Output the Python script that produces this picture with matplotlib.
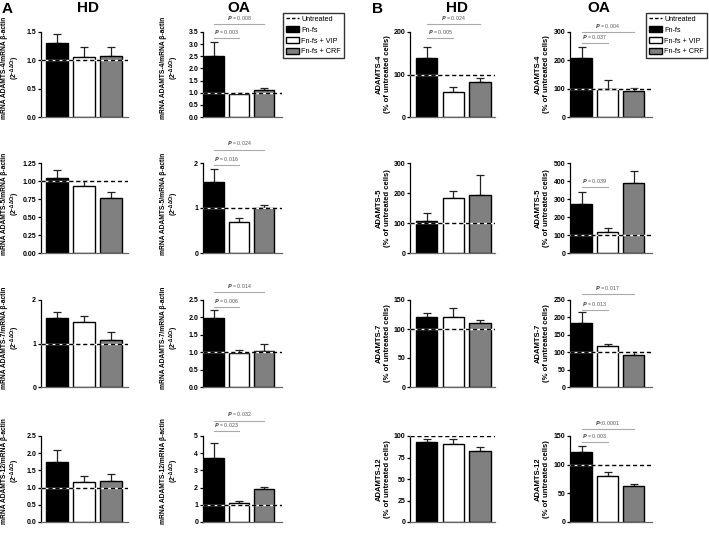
import matplotlib
matplotlib.use("Agg")
import matplotlib.pyplot as plt
from matplotlib.lines import Line2D
from matplotlib.patches import Patch

plt.rcParams['font.family'] = ['Liberation Sans', 'DejaVu Sans']
plt.rcParams['font.weight'] = 'bold'
plt.rcParams['mathtext.default'] = 'regular'

groups = ['Fn-fs', 'Fn-fs + VIP', 'Fn-fs + CRF']
genes = ['ADAMTS-4', 'ADAMTS-5', 'ADAMTS-7', 'ADAMTS-12']

# panel A: mRNA (2^-ddCt), rows = genes
a_hd_mean = [[1.31, 1.06, 1.07], [1.04, 0.93, 0.76], [1.58, 1.49, 1.08], [1.75, 1.15, 1.20]]
a_hd_err = [[0.16, 0.17, 0.16], [0.11, 0.07, 0.09], [0.15, 0.14, 0.18], [0.33, 0.18, 0.19]]
a_oa_mean = [[2.52, 0.93, 1.10], [1.57, 0.70, 0.99], [1.98, 0.99, 1.03], [3.75, 1.08, 1.90]]
a_oa_err = [[0.56, 0.07, 0.10], [0.29, 0.07, 0.07], [0.22, 0.08, 0.22], [0.87, 0.12, 0.12]]

# panel B: protein (% of untreated cells)
b_hd_mean = [[140, 59, 82], [108, 182, 195], [120, 120, 110], [93, 91, 82]]
b_hd_err = [[25, 11, 9], [25, 26, 65], [8, 16, 6], [4, 5, 5]]
b_oa_mean = [[210, 100, 92], [272, 115, 388], [185, 118, 92], [122, 80, 62]]
b_oa_err = [[36, 30, 11], [66, 25, 67], [30, 5, 10], [10, 8, 5]]

a_hd_ticks = [[0, 0.5, 1.0, 1.5], [0, 0.25, 0.5, 0.75, 1.0, 1.25], [0, 1, 2], [0, 0.5, 1.0, 1.5, 2.0, 2.5]]
a_hd_fmt = ['%.1f', '%.2f', '%d', '%.1f']
a_oa_ticks = [[0, 0.5, 1.0, 1.5, 2.0, 2.5, 3.0, 3.5], [0, 1, 2], [0, 0.5, 1.0, 1.5, 2.0, 2.5], [0, 1, 2, 3, 4, 5]]
a_oa_fmt = ['%.1f', '%d', '%.1f', '%d']
b_hd_ticks = [[0, 100, 200], [0, 100, 200, 300], [0, 50, 100, 150], [0, 25, 50, 75, 100]]
b_oa_ticks = [[0, 100, 200, 300], [0, 100, 200, 300, 400, 500], [0, 50, 100, 150, 200, 250], [0, 50, 100, 150]]

# p-value brackets: (row, text, to_bar, height)
a_oa_p = [(0, 'P = 0.003', 1, 3.25), (0, 'P = 0.008', 2, 3.83),
          (1, 'P = 0.016', 1, 1.95), (1, 'P = 0.024', 2, 2.30),
          (2, 'P = 0.006', 1, 2.30), (2, 'P = 0.014', 2, 2.73),
          (3, 'P = 0.023', 1, 5.3), (3, 'P = 0.032', 2, 5.9)]
b_hd_p = [(0, 'P = 0.005', 1, 186), (0, 'P = 0.024', 2, 219)]
b_oa_p = [(0, 'P = 0.037', 1, 261), (0, 'P = 0.004', 2, 300),
          (1, 'P = 0.039', 1, 365),
          (2, 'P = 0.013', 1, 221), (2, 'P = 0.017', 2, 268),
          (3, 'P = 0.003', 1, 140), (3, 'P<0.0001', 2, 162)]

colors = ['black', 'white', '#808080']

W, H = 709, 536
fig = plt.figure(figsize=(W / 100, H / 100), dpi=100)


def rect(l, r, t, b):
    return [l / W, 1 - b / H, (r - l) / W, (b - t) / H]


row_tb = [(32, 117), (163, 253), (300, 387), (436, 522)]
col_lr = [(41, 128, -0.6, 2.63), (203, 282, -0.42, 2.7), (410, 495, -0.62, 2.56), (570, 652, -0.44, 2.69)]
label_x = [22, 181, 391, 550]


def panel(ci, ri, means, errs, ticks, fmt, base, ylabel, pvals):
    l, r, x0, x1 = col_lr[ci]
    t, b = row_tb[ri]
    ax = fig.add_axes(rect(l, r, t, b))
    x = [0, 1, 2]
    ax.bar(x, means, width=0.8, color=colors, edgecolor='black', linewidth=1.0, zorder=2)
    ax.errorbar(x, means, yerr=[[0, 0, 0], errs], fmt='none', ecolor='#222222',
                elinewidth=0.9, capsize=3.2, capthick=0.9, zorder=1)
    ax.axhline(base, color='white', lw=1.0, zorder=3)
    ax.axhline(base, color='black', lw=1.0, ls=(0, (3, 2)), zorder=4)
    ax.set_xlim(x0, x1)
    ax.set_ylim(0, ticks[-1])
    ax.set_yticks(ticks)
    ax.set_yticklabels([fmt % v for v in ticks], fontsize=5, fontweight='bold')
    ax.set_xticks([])
    for s in ['top', 'right']:
        ax.spines[s].set_visible(False)
    ax.spines['left'].set_linewidth(0.9)
    ax.spines['bottom'].set_linewidth(0.9)
    ax.spines['bottom'].set_color('#666666')
    ax.tick_params(axis='y', length=2.5, width=0.9, pad=1.0)
    lx = (label_x[ci] - l) / (r - l)
    if ci < 2:
        ax.set_ylabel(ylabel, fontsize=4.8, fontweight='bold', linespacing=1.05,
                      ha='left', multialignment='center')
        ax.yaxis.set_label_coords(lx, -0.02)
    else:
        ax.set_ylabel(ylabel, fontsize=5.5, fontweight='bold', linespacing=1.2,
                      multialignment='center')
        ax.yaxis.set_label_coords(lx, 0.5)
    for row, txt, j, h in pvals:
        if row != ri:
            continue
        ax.plot([0, j], [h, h], color='#aaaaaa', lw=0.8, clip_on=False, zorder=5)
        if txt.startswith('P = '):
            s = r'$\it{P}$ = ' + txt[4:]
        else:
            s = r'$\it{P}$' + txt[1:]
        ax.annotate(s, (j / 2, h), xytext=(0, 1.5), textcoords='offset points',
                    ha='center', va='bottom', fontsize=3.8, color='#555555',
                    fontweight='normal', annotation_clip=False)
    return ax


for ri, g in enumerate(genes):
    la = 'mRNA %s/mRNA β-actin\n(2$^{-ΔΔCt}$)' % g
    lb = '%s\n(%% of untreated cells)' % g
    panel(0, ri, a_hd_mean[ri], a_hd_err[ri], a_hd_ticks[ri], a_hd_fmt[ri], 1, la, [])
    panel(1, ri, a_oa_mean[ri], a_oa_err[ri], a_oa_ticks[ri], a_oa_fmt[ri], 1, la, a_oa_p)
    panel(2, ri, b_hd_mean[ri], b_hd_err[ri], b_hd_ticks[ri], '%d', 100, lb, b_hd_p)
    panel(3, ri, b_oa_mean[ri], b_oa_err[ri], b_oa_ticks[ri], '%d', 100, lb, b_oa_p)

fig.text(2 / W, 1 - 2 / H, 'A', fontsize=11, fontweight='bold', va='top')
fig.text(372 / W, 1 - 2 / H, 'B', fontsize=11, fontweight='bold', va='top')
for xc, title in [(88, 'HD'), (239, 'OA'), (457, 'HD'), (599, 'OA')]:
    fig.text(xc / W, 1 - 1 / H, title, fontsize=11, fontweight='bold', ha='center', va='top')

handles = [Line2D([], [], color='black', ls=(0, (2.5, 1.5)), lw=1),
           Patch(facecolor='black', edgecolor='black'),
           Patch(facecolor='white', edgecolor='black'),
           Patch(facecolor='#808080', edgecolor='black')]
labels = ['Untreated'] + groups
for lx in [283, 646]:
    leg = fig.legend(handles, labels, loc='upper left', bbox_to_anchor=(lx / W, 1 - 13 / H),
                     fontsize=5.2, frameon=True, fancybox=False, edgecolor='black',
                     handlelength=1.8, handleheight=0.8, labelspacing=0.5,
                     borderpad=0.35, handletextpad=0.4, borderaxespad=0)
    leg.get_frame().set_linewidth(1.0)
    for t in leg.get_texts():
        t.set_fontweight('normal')

fig.savefig('out.png', dpi=100)
